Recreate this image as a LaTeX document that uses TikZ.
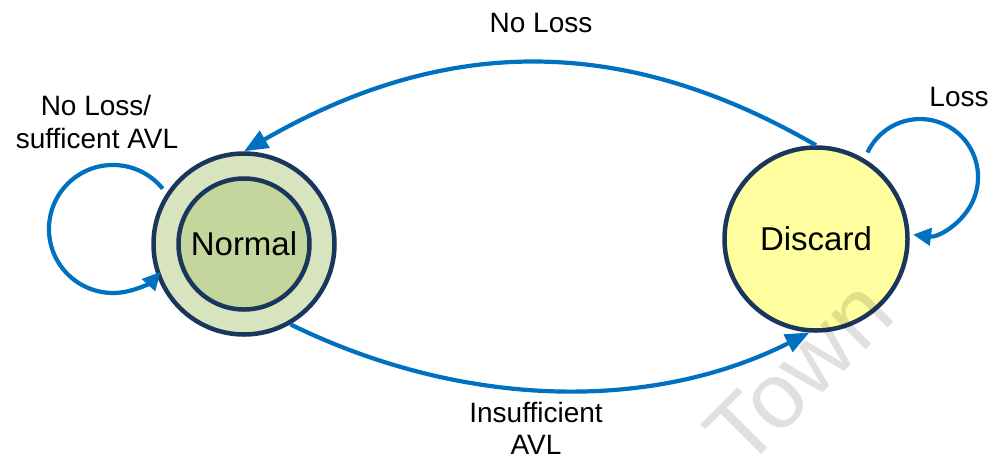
\documentclass[tikz,border=0pt]{standalone}
\usepackage{fontspec}
\setmainfont{Liberation Sans}
\usetikzlibrary{arrows.meta}

\definecolor{navy}{HTML}{1B365D}
\definecolor{linkblue}{HTML}{0070C0}
\definecolor{outergreen}{HTML}{D7E4BD}
\definecolor{innergreen}{HTML}{C3D69B}
\definecolor{paleyellow}{HTML}{FFFF9F}

\begin{document}
\begin{tikzpicture}[x=1pt,y=1pt,
  state/.style={circle, draw=navy, line width=4.5pt, inner sep=0pt,
    font=\fontsize{33}{38}\selectfont},
  link/.style={draw=linkblue, line width=4.2pt,
    -{Triangle[length=24pt,width=19pt]}},
  loop link/.style={draw=linkblue, line width=4.2pt,
    -{Triangle[length=18pt,width=17pt]}},
  lbl/.style={font=\fontsize{28}{33}\selectfont, anchor=base, inner sep=0pt},
  mark text/.style={rotate=45, anchor=base, inner sep=0pt, text=black,
    text opacity=0.12, font=\fontsize{93}{100}\selectfont}]
\useasboundingbox (0,0) rectangle (995,-459);

% states
\node[state, fill=outergreen, minimum size=181pt] (normal) at (244,-244) {};
\node[state, fill=innergreen, minimum size=131pt] (normalin) at (244,-244) {Normal};
\node[state, fill=paleyellow, minimum size=183pt] (discard) at (816,-239) {Discard};

% transitions between the two states
\draw[link] (discard.north) .. controls (622,-33) and (444,-36) .. (normal.north);
\draw[link] (normal.-60) .. controls (461,-408) and (650,-413) .. (discard.-94);

% self loops
\coordinate (lstart) at (162.7,-188.7);
\draw[loop link] (lstart) arc[start angle=39, end angle=318, radius=64];
\coordinate (rstart) at (867.5,-152.5);
\draw[loop link] (rstart) arc[start angle=155, end angle=-97, radius=58];

% transition labels
\node[lbl] (lnoloss) at (541,-32) {No Loss};
\node[lbl] (lloss) at (959,-106) {Loss};
\node[lbl] (lself1) at (96,-115) {No Loss/};
\node[lbl] (lself2) at (97,-148) {sufficent AVL};
\node[lbl] (linsuf1) at (536,-422) {Insufficient};
\node[lbl] (linsuf2) at (536,-454) {AVL};

% watermark
\node[mark text] (wm) at (821,-395) {Town};
\end{tikzpicture}
\end{document}
